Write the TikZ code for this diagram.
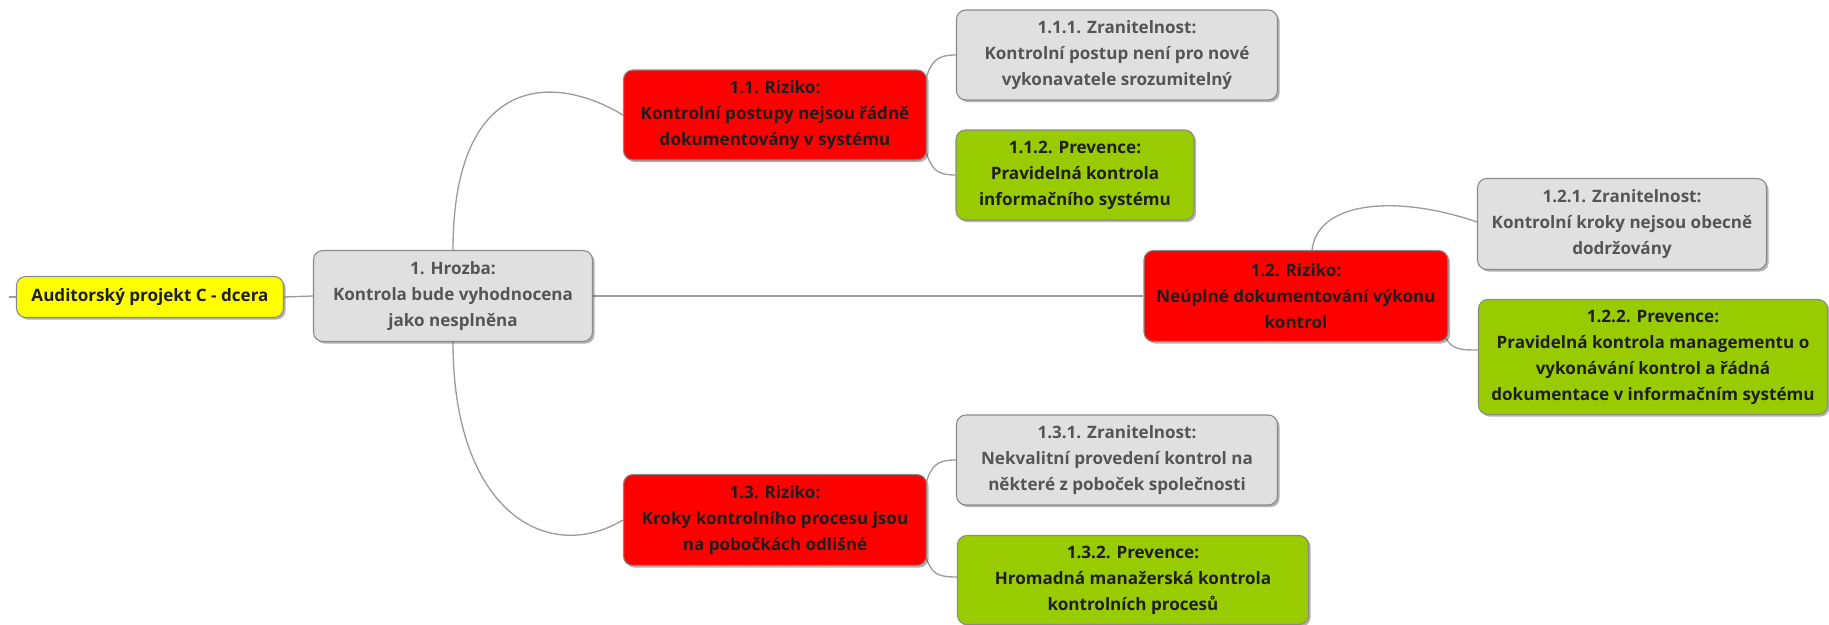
\documentclass[tikz,border=0pt]{standalone}
\usepackage{fontspec}
\setmainfont{Open Sans}
\usetikzlibrary{shadows,backgrounds,calc}
\definecolor{linkgray}{HTML}{9C9C9C}
\definecolor{edgegray}{HTML}{8A8A8A}
\definecolor{boxgray}{HTML}{E0E0E0}
\definecolor{boxred}{HTML}{FF0000}
\definecolor{boxgreen}{HTML}{99CC00}
\definecolor{boxyellow}{HTML}{FFFF00}
\definecolor{textdark}{HTML}{1E1E1E}
\definecolor{textgray}{HTML}{555555}
\tikzset{
  sz/.style 2 args={minimum width=#1*0.75pt, minimum height=#2*0.75pt},
  topic/.style={draw=edgegray, line width=0.8pt, rounded corners=7pt,
    align=center, inner sep=0pt, text=textdark,
    font=\bfseries\fontsize{12.8}{19.5}\selectfont,
    drop shadow={shadow xshift=1.6pt, shadow yshift=-1.6pt, opacity=0.3, fill=black}},
  rootbox/.style={topic, fill=boxyellow},
  graybox/.style={topic, fill=boxgray, text=textgray},
  redbox/.style={topic, fill=boxred},
  greenbox/.style={topic, fill=boxgreen},
  link/.style={draw=linkgray, line width=1pt}
}
\begin{document}
\begin{tikzpicture}[x=0.75pt,y=-0.75pt]
\useasboundingbox (0,0) rectangle (1829,625);

% central topic and threat
\node[rootbox, sz={267}{41}] (root) at (150,297) {Auditorský projekt C - dcera};
\node[graybox, sz={279}{91}] (hrozba) at (453,296)
  {1. Hrozba:\\Kontrola bude vyhodnocena\\jako nesplněna};

% risks
\node[redbox, sz={303}{90}] (r11) at (775,115)
  {1.1. Riziko:\\Kontrolní postupy nejsou řádně\\dokumentovány v systému};
\node[redbox, sz={304}{91}] (r12) at (1296,296)
  {1.2. Riziko:\\Neúplné dokumentování výkonu\\kontrol};
\node[redbox, sz={303}{91}] (r13) at (775,520)
  {1.3. Riziko:\\Kroky kontrolního procesu jsou\\na pobočkách odlišné};

% vulnerabilities and preventions
\node[graybox, sz={321}{90}] (z111) at (1117,55)
  {1.1.1. Zranitelnost:\\Kontrolní postup není pro nové\\vykonavatele srozumitelný};
\node[greenbox, sz={238}{90}] (p112) at (1075,175)
  {1.1.2. Prevence:\\Pravidelná kontrola\\informačního systému};
\node[graybox, sz={289}{91}] (z121) at (1622,224)
  {1.2.1. Zranitelnost:\\Kontrolní kroky nejsou obecně\\dodržovány};
\node[greenbox, sz={349}{115}] (p122) at (1653,357)
  {1.2.2. Prevence:\\Pravidelná kontrola managementu o\\vykonávání kontrol a řádná\\dokumentace v informačním systému};
\node[graybox, sz={321}{90}] (z131) at (1117,460)
  {1.3.1. Zranitelnost:\\Nekvalitní provedení kontrol na\\některé z poboček společnosti};
\node[greenbox, sz={351}{89}] (p132) at (1133,580)
  {1.3.2. Prevence:\\Hromadná manažerská kontrola\\kontrolních procesů};

% connectors
\begin{scope}[on background layer]
  \coordinate (stub) at (9,297);
  \draw[link] (stub) -- (root.west);
  \draw[link] (root.east) -- (hrozba.west);
  \draw[link] (hrozba.east) -- (r12.west);
  \draw[link] (hrozba.north) .. controls +(0,-170) and +(-75,-45) .. (r11.west);
  \draw[link] (hrozba.south) .. controls +(0,170) and +(-75,45) .. (r13.west);

  \draw[link] ($(r11.north east)+(-2,12)$) .. controls +(6,-20) and +(-20,0) .. (z111.west);
  \draw[link] ($(r11.south east)+(-2,-12)$) .. controls +(6,20) and +(-20,0) .. (p112.west);

  \draw[link] ($(r12.north)+(16,0)$) .. controls +(6,-50) and +(-78,-27) .. ($(z121.west)+(0,-2)$);
  \draw[link] ($(r12.south east)+(-4,-7)$) .. controls +(6,14) and +(-20,0) .. ($(p122.west)+(0,-7)$);

  \draw[link] ($(r13.north east)+(-2,12)$) .. controls +(6,-20) and +(-20,0) .. (z131.west);
  \draw[link] ($(r13.south east)+(-2,-12)$) .. controls +(6,20) and +(-20,0) .. ($(p132.west)+(0,-3)$);
\end{scope}
\end{tikzpicture}
\end{document}
